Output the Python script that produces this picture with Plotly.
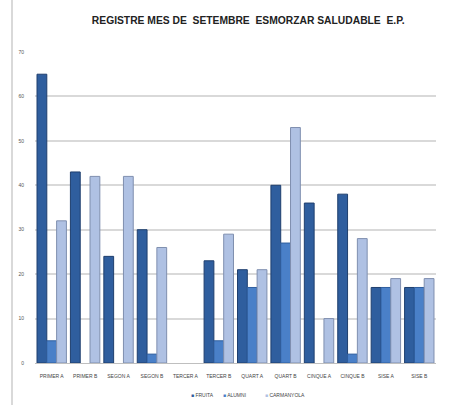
import plotly.graph_objects as go

categories = ["PRIMER A", "PRIMER B", "SEGON A", "SEGON B", "TERCER A", "TERCER B",
              "QUART A", "QUART B", "CINQUE A", "CINQUE B", "SISE A", "SISE B"]
fruita = [65, 43, 24, 30, 0, 23, 21, 40, 36, 38, 17, 17]
alumni = [5, 0, 0, 2, 0, 5, 17, 27, 0, 2, 17, 17]
carmanyola = [32, 42, 42, 26, 0, 29, 21, 53, 10, 28, 19, 19]
series_names = ["FRUITA", "ALUMNI", "CARMANYOLA"]
y_ticks = [0, 10, 20, 30, 40, 50, 60, 70]

colors = ["#2F5E9E", "#4A80C8", "#AFC1E3"]
edges = ["#1F3F6E", "#2F5E9E", "#7F8FAF"]

L, R, T, B = 35, 35, 52, 42
W, H = 471, 405
pw = W - L - R
ph = H - T - B

fig = go.Figure()
for name, vals, col, edge in zip(series_names, [fruita, alumni, carmanyola], colors, edges):
    fig.add_bar(x=categories, y=vals, name=name, showlegend=False,
                marker=dict(color=col,
                            line=dict(color=edge, width=[1 if v > 0 else 0 for v in vals])))

# legend drawn as text entries (small square + label), like the original
legend_px = [189, 221, 263]
annotations = []
for name, col, px in zip(series_names, colors, legend_px):
    annotations.append(dict(
        text=f"<span style='color:{col}'>■</span> {name}",
        xref="paper", yref="paper", x=(px - L) / pw, y=-(395 - (H - B)) / ph,
        xanchor="left", yanchor="middle", showarrow=False,
        font=dict(family="Arial", size=5, color="#444444")))

fig.update_layout(
    width=W, height=H,
    margin=dict(l=L, r=R, t=T, b=B),
    paper_bgcolor="white", plot_bgcolor="white",
    barmode="group", bargap=0.12, bargroupgap=0.0,
    showlegend=False,
    title=dict(text="<b>REGISTRE MES DE  SETEMBRE  ESMORZAR SALUDABLE  E.P.</b>",
               x=0.527, xanchor="center", y=0.95, yanchor="middle",
               font=dict(family="Arial", size=10.3, color="#222222")),
    font=dict(family="Arial", color="#555555"),
    xaxis=dict(tickfont=dict(size=5, color="#444444"), showline=True,
               linecolor="#BFBFBF", linewidth=1, ticks="", tickangle=0,
               ticklabelstandoff=8, automargin=False),
    yaxis=dict(range=[0, 70], tickvals=y_ticks, tickfont=dict(size=5, color="#555555"),
               showgrid=True, gridcolor="#D9D9D9", gridwidth=1.5, zeroline=False,
               ticks="", showline=False, ticklabelstandoff=10, automargin=False),
    annotations=annotations,
    shapes=[dict(type="line", xref="paper", yref="paper",
                 x0=(12 - L) / pw, x1=(12 - L) / pw, y0=-B / ph, y1=1 + T / ph,
                 line=dict(color="#CCCCCC", width=1.5))],
)

fig.write_html("out.html", config={"displayModeBar": False},
               post_script="document.body.style.margin='0';")
